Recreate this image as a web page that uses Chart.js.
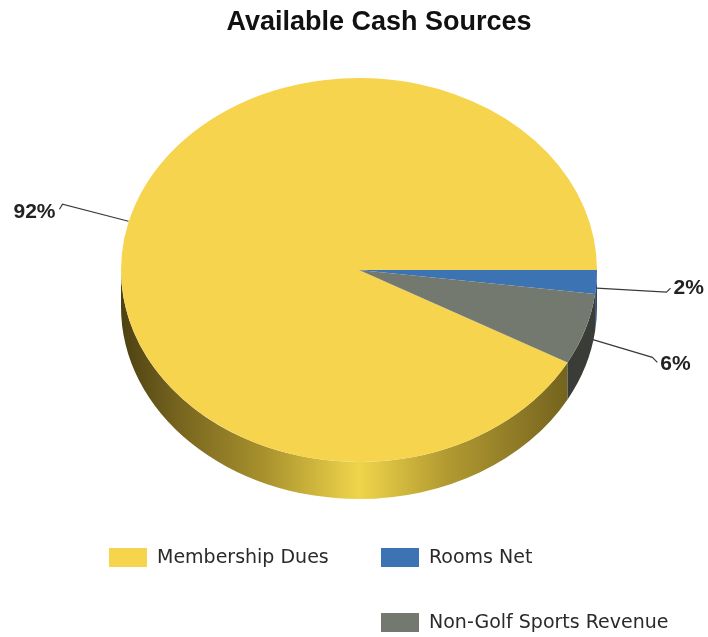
<!DOCTYPE html>
<html>
<head>
<meta charset="utf-8">
<title>Available Cash Sources</title>
<script src="https://cdn.jsdelivr.net/npm/chart.js@4.4.1/dist/chart.umd.min.js"></script>
<style>
  html, body { margin: 0; padding: 0; background: #fff; }
  #pie { display: block; }
</style>
</head>
<body>
<canvas id="pie" width="708" height="637"></canvas>
<script>
const chartTitle = 'Available Cash Sources';
const sources = ['Membership Dues', 'Rooms Net', 'Non-Golf Sports Revenue'];
const shares = [92, 2, 6];

const topColors = ['#F6D44E', '#3B73B3', '#74796F'];
const wallColors = [null, '#2B4C74', '#3A3D37'];

// flatten the disc into an ellipse and give it a wall
const tilt = 192 / 238;
const depth = 37;

// where each leader line bends and where its text sits
const leaderLayout = [
  { drop: -1, elbow: [-66, -17], hook: [-3, 5], text: [-4, 3] },
  { drop: 6, elbow: [70, 4], hook: [4, -4], text: [3, 0] },
  { drop: 8, elbow: [67, 20], hook: [5, 5], text: [3, 2] }
];
const legendSlots = [[109, 548], [381, 548], [381, 613]];

const total = shares.reduce((a, b) => a + b, 0);
// first slice (Membership Dues) starts right after the two small ones
const startAt = 90 + 360 * (shares[1] + shares[2]) / total;

function wallFill(ctx, i, cx, r) {
  if (wallColors[i]) return wallColors[i];
  const g = ctx.createLinearGradient(cx - r, 0, cx + r, 0);
  g.addColorStop(0, '#4d4112');
  g.addColorStop(0.12, '#76641f');
  g.addColorStop(0.3, '#a8912d');
  g.addColorStop(0.5, '#efd54b');
  g.addColorStop(0.68, '#b39b31');
  g.addColorStop(0.85, '#8a7625');
  g.addColorStop(1, '#655619');
  return g;
}

const pie3d = {
  id: 'pie3d',
  beforeDatasetsDraw(chart) {
    const ctx = chart.ctx;
    const arcs = chart.getDatasetMeta(0).data;
    const cx = arcs[0].x, cy = arcs[0].y, r = arcs[0].outerRadius;
    const TAU = Math.PI * 2;

    // front wall, only the half facing the viewer
    arcs.forEach((arc, i) => {
      let a1 = arc.startAngle % TAU;
      if (a1 < 0) a1 += TAU;
      const a2 = a1 + (arc.endAngle - arc.startAngle);
      [[0, Math.PI], [TAU, TAU + Math.PI]].forEach(([lo, hi]) => {
        const s = Math.max(a1, lo), e = Math.min(a2, hi);
        if (e <= s) return;
        ctx.beginPath();
        ctx.ellipse(cx, cy, r, r * tilt, 0, s - lo, e - lo);
        ctx.ellipse(cx, cy + depth, r, r * tilt, 0, e - lo, s - lo, true);
        ctx.closePath();
        ctx.fillStyle = wallFill(ctx, i, cx, r);
        ctx.fill();
      });
    });

    ctx.save();
    ctx.translate(0, cy);
    ctx.scale(1, tilt);
    ctx.translate(0, -cy);
  },
  afterDatasetsDraw(chart) {
    const ctx = chart.ctx;
    ctx.restore();

    const arcs = chart.getDatasetMeta(0).data;
    ctx.save();
    ctx.strokeStyle = '#3a3a3a';
    ctx.lineWidth = 1.2;
    ctx.fillStyle = '#222';
    ctx.font = 'bold 21px "Liberation Sans", Arial, sans-serif';
    ctx.textBaseline = 'middle';
    arcs.forEach((arc, i) => {
      const lay = leaderLayout[i];
      const mid = (arc.startAngle + arc.endAngle) / 2;
      const x0 = arc.x + arc.outerRadius * Math.cos(mid);
      const y0 = arc.y + arc.outerRadius * tilt * Math.sin(mid) + lay.drop;
      const x1 = x0 + lay.elbow[0], y1 = y0 + lay.elbow[1];
      const x2 = x1 + lay.hook[0], y2 = y1 + lay.hook[1];
      ctx.beginPath();
      ctx.moveTo(x0, y0);
      ctx.lineTo(x1, y1);
      ctx.lineTo(x2, y2);
      ctx.stroke();
      const pct = Math.round(shares[i] / total * 100) + '%';
      ctx.textAlign = lay.text[0] < 0 ? 'right' : 'left';
      ctx.fillText(pct, x2 + lay.text[0], y2 + lay.text[1]);
    });
    ctx.restore();
  },
  afterDraw(chart) {
    const ctx = chart.ctx;
    ctx.save();
    ctx.fillStyle = '#111';
    ctx.font = 'bold 27px "Liberation Sans", Arial, sans-serif';
    ctx.textAlign = 'center';
    ctx.textBaseline = 'middle';
    ctx.fillText(chartTitle, 379, 23);

    ctx.font = '19px "DejaVu Sans", sans-serif';
    ctx.textAlign = 'left';
    sources.forEach((name, i) => {
      const [bx, by] = legendSlots[i];
      ctx.fillStyle = topColors[i];
      ctx.fillRect(bx, by, 38, 19);
      ctx.fillStyle = '#2a2a2a';
      ctx.fillText(name, bx + 48, by + 10);
    });
    ctx.restore();
  }
};

new Chart(document.getElementById('pie'), {
  type: 'pie',
  data: {
    labels: sources,
    datasets: [{
      data: shares,
      backgroundColor: topColors,
      borderWidth: 0
    }]
  },
  options: {
    responsive: false,
    animation: false,
    rotation: startAt,
    layout: { padding: { left: 121, right: 111, top: 32, bottom: 129 } },
    plugins: {
      legend: { display: false },
      title: { display: false },
      tooltip: { enabled: false }
    }
  },
  plugins: [pie3d]
});
</script>
</body>
</html>
